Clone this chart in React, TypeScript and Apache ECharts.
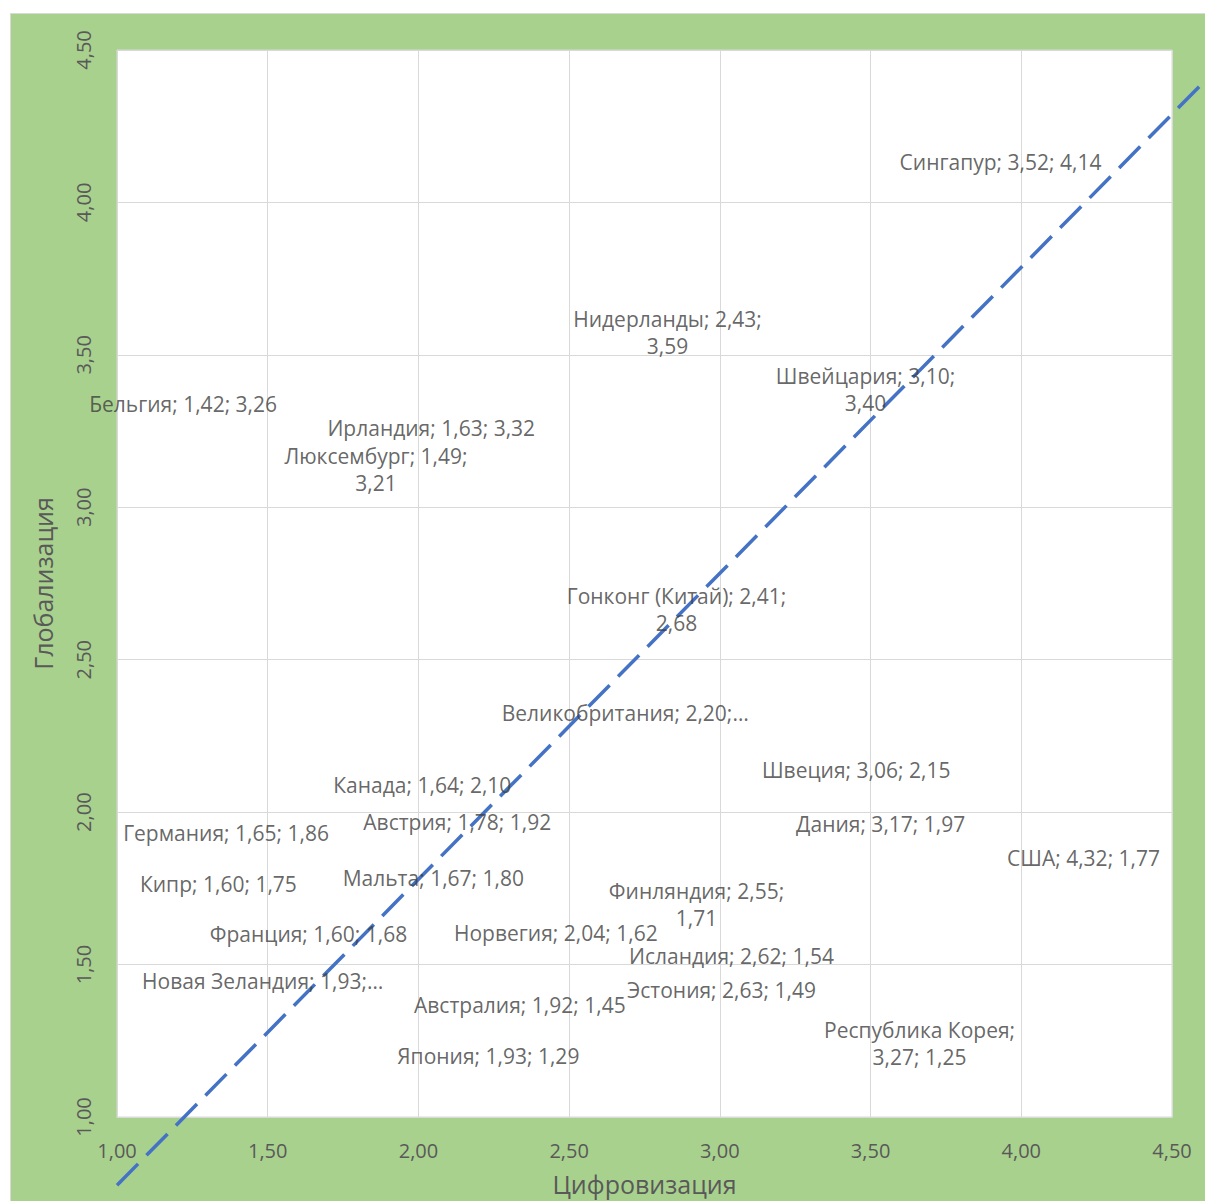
import React, { useEffect, useRef } from "react";
import * as echarts from "echarts";

// ---- data ----
const countries = [
  "Сингапур", "Нидерланды", "Швейцария", "Бельгия", "Ирландия", "Люксембург",
  "Гонконг (Китай)", "Великобритания", "Швеция", "Канада", "Германия", "Австрия",
  "Дания", "США", "Кипр", "Мальта", "Финляндия", "Франция", "Норвегия", "Исландия",
  "Новая Зеландия", "Эстония", "Австралия", "Республика Корея", "Япония",
];
const digitalization = [
  3.52, 2.43, 3.10, 1.42, 1.63, 1.49, 2.41, 2.20, 3.06, 1.64, 1.65, 1.78,
  3.17, 4.32, 1.60, 1.67, 2.55, 1.60, 2.04, 2.62, 1.93, 2.63, 1.92, 3.27, 1.93,
];
const globalization = [
  4.14, 3.59, 3.40, 3.26, 3.32, 3.21, 2.68, 2.33, 2.15, 2.10, 1.86, 1.92,
  1.97, 1.77, 1.75, 1.80, 1.71, 1.68, 1.62, 1.54, 1.45, 1.49, 1.45, 1.25, 1.29,
];
// trend line end points
const trendX = [1.0, 4.59];
const trendY = [0.79, 4.38];
const axisTicks = [1.0, 1.5, 2.0, 2.5, 3.0, 3.5, 4.0, 4.5];

// ---- label layout (style, not data) ----
const labelMode = [
  "line", "wrap", "wrap", "line", "line", "wrap",
  "wrap", "trunc", "line", "line", "line", "line",
  "line", "line", "line", "line", "wrap", "line", "line", "line",
  "trunc", "line", "line", "wrapName", "line",
];
const labelAlign = [
  "left", "center", "center", "center", "left", "center",
  "center", "left", "left", "left", "center", "left",
  "left", "center", "right", "left", "center", "center", "left", "left",
  "right", "left", "left", "center", "left",
];
const labelOffset: [number, number][] = [
  [23, 2.5], [119.5, 5], [115.5, 4.5], [-60.5, -24], [20.5, 18.5], [111.3, 26.7],
  [134.5, 4.6], [23, 1.5], [24, 3.5], [23.4, 3], [-86.9, -22.3], [11.2, -14.7],
  [25, 2.5], [-34.2, -24], [-1, -4], [23.7, 5.3], [112.3, 3.8], [10.6, 24.6], [23.5, 5.2], [23.7, 3.7],
  [-14, 1.5], [18.7, 22.4], [19.7, 25.2], [118.3, 2.5], [0, 27.2],
];

const fmt = (v: number) => v.toFixed(2).replace(".", ",");

function labelText(i: number): string {
  const n = countries[i];
  const x = fmt(digitalization[i]);
  const y = fmt(globalization[i]);
  switch (labelMode[i]) {
    case "wrap":
      return `${n}; ${x};\n${y}`;
    case "wrapName":
      return `${n};\n${x}; ${y}`;
    case "trunc":
      return `${n}; ${x};…`;
    default:
      return `${n}; ${x}; ${y}`;
  }
}

const FONT = "'Open Sans', 'Noto Sans', sans-serif";

export default function App() {
  const ref = useRef<HTMLDivElement>(null);

  useEffect(() => {
    if (!ref.current) return;
    const chart = echarts.init(ref.current, undefined, { renderer: "svg" });

    const points = countries.map((name, i) => ({
      name,
      value: [digitalization[i], globalization[i]],
      label: {
        formatter: labelText(i),
        align: labelAlign[i],
        offset: labelOffset[i],
      },
    }));

    const W = 1194;
    const H = 1187;
    const left = 106;
    const top = 36;
    const right = 33;
    const bottom = 80;
    const pxX = (W - left - right) / 3.5;
    const pxY = (H - top - bottom) / 3.5;
    // overlay grid for the trend line, sharing the same scale but a wider extent
    const tMinX = 1.0, tMaxX = 4.6, tMinY = 0.75, tMaxY = 4.5;

    chart.setOption({
      animation: false,
      backgroundColor: "#a9d18e",
      textStyle: { fontFamily: FONT },
      grid: [
        {
          left,
          top,
          right,
          bottom,
          show: true,
          backgroundColor: "#ffffff",
          borderColor: "#d9d9d9",
          borderWidth: 1,
        },
        {
          left,
          top,
          width: (tMaxX - tMinX) * pxX,
          height: (tMaxY - tMinY) * pxY,
          show: false,
        },
      ],
      xAxis: [
        {
          type: "value",
          min: axisTicks[0],
          max: axisTicks[axisTicks.length - 1],
          interval: 0.5,
          name: "Цифровизация",
          nameLocation: "middle",
          nameGap: 54,
          nameTextStyle: { fontSize: 25, color: "#595959", fontFamily: FONT },
          axisLine: { show: true, lineStyle: { color: "#d9d9d9", width: 1 } },
          axisTick: { show: false },
          axisLabel: {
            formatter: (v: number) => fmt(v),
            fontSize: 20,
            color: "#595959",
            margin: 23,
            fontFamily: FONT,
          },
          splitLine: { show: true, lineStyle: { color: "#d9d9d9", width: 1 } },
        },
        {
          type: "value",
          gridIndex: 1,
          min: tMinX,
          max: tMaxX,
          show: false,
        },
      ],
      yAxis: [
        {
          type: "value",
          min: axisTicks[0],
          max: axisTicks[axisTicks.length - 1],
          interval: 0.5,
          name: "Глобализация",
          nameLocation: "middle",
          nameGap: 62,
          nameRotate: 90,
          nameTextStyle: { fontSize: 25, color: "#595959", fontFamily: FONT },
          axisLine: { show: true, lineStyle: { color: "#d9d9d9", width: 1 } },
          axisTick: { show: false },
          axisLabel: {
            formatter: (v: number) => fmt(v),
            fontSize: 20,
            color: "#595959",
            rotate: 90,
            margin: 24,
            fontFamily: FONT,
          },
          splitLine: { show: true, lineStyle: { color: "#d9d9d9", width: 1 } },
        },
        {
          type: "value",
          gridIndex: 1,
          min: tMinY,
          max: tMaxY,
          show: false,
        },
      ],
      series: [
        {
          type: "line",
          xAxisIndex: 1,
          yAxisIndex: 1,
          data: trendX.map((x, i) => [x, trendY[i]]),
          showSymbol: false,
          clip: false,
          silent: true,
          z: 3,
          lineStyle: { color: "#4472c4", width: 3.5, type: [30, 12] },
        },
        {
          type: "scatter",
          data: points,
          symbol: "circle",
          symbolSize: 1,
          silent: true,
          z: 4,
          itemStyle: { color: "rgba(0,0,0,0)" },
          label: {
            show: true,
            position: "inside",
            verticalAlign: "middle",
            fontSize: 21,
            lineHeight: 27,
            color: "#404040",
            fontFamily: FONT,
          },
        },
      ],
    });

    return () => chart.dispose();
  }, []);

  return (
    <div
      style={{
        position: "fixed",
        left: 0,
        top: 0,
        width: 1205,
        height: 1201,
        background: "#ffffff",
        overflow: "hidden",
      }}
    >
      <div
        style={{
          position: "absolute",
          left: 10,
          top: 13,
          width: 1195,
          height: 1188,
          boxSizing: "border-box",
          borderLeft: "1px solid #d9d9d9",
          borderTop: "1px solid #d9d9d9",
        }}
      >
        <div ref={ref} style={{ width: 1194, height: 1187 }} />
      </div>
    </div>
  );
}
